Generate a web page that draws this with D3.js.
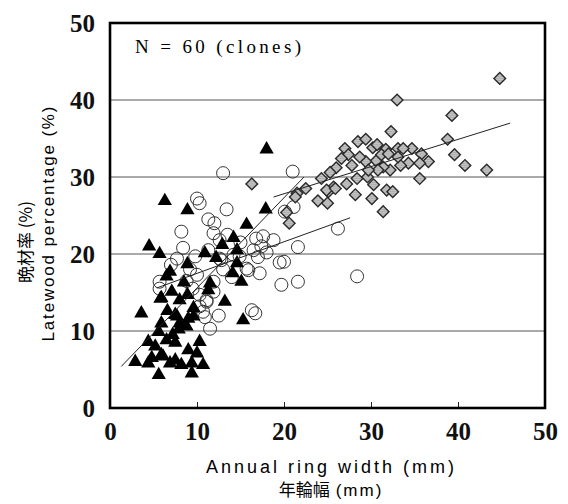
<!DOCTYPE html>
<html>
<head>
<meta charset="utf-8">
<script src="https://cdn.jsdelivr.net/npm/d3@7"></script>
<style>
  body { margin: 0; background: #fff; }
  svg { display: block; }
</style>
</head>
<body>
<div id="chart"></div>
<script>
// ring width (mm), latewood percentage (%)
const triangles = [
  [18.0,33.6],[6.3,26.9],[8.9,25.7],[17.9,25.8],[15.7,23.8],[4.5,21.0],[5.7,20.0],[14.2,22.1],
  [12.9,21.2],[10.9,20.1],[14.6,20.5],[14.6,18.8],[8.9,18.7],[6.9,17.7],[6.5,17.1],[11.5,16.2],
  [11.3,15.3],[14.1,17.5],[15.1,16.4],[7.1,15.1],[5.8,14.2],[8.9,14.7],[8.0,14.0],[13.2,13.8],
  [3.6,12.3],[5.9,11.0],[7.5,12.1],[8.0,11.0],[9.0,11.6],[9.6,11.9],[15.3,11.4],[8.8,10.6],
  [5.6,9.9],[4.4,8.6],[7.5,8.5],[10.3,8.6],[5.2,8.0],[9.0,7.5],[10.0,7.1],[2.9,6.0],
  [4.8,6.5],[5.9,6.9],[7.5,6.2],[8.2,5.6],[9.4,5.8],[10.7,5.6],[5.6,4.3],[9.4,4.5],
  [6.9,5.8],[4.4,5.8],[6.5,8.8],[7.9,10.2],[5.9,14.3],[7.7,11.9],[6.1,6.7],[12.2,19.5],
  [9.6,13.0],[7.2,9.5],[6.6,12.6],[8.5,16.3]
];
const circles = [
  [13.0,30.5],[21.0,30.7],[10.0,27.2],[10.3,26.6],[13.4,25.8],[11.3,24.5],[8.2,22.9],[20.1,25.5],
  [21.1,26.1],[26.2,23.3],[28.4,17.1],[17.6,22.3],[18.8,21.8],[17.4,21.0],[21.6,20.9],[19.5,18.9],
  [20.0,19.0],[17.2,17.5],[19.7,16.0],[21.6,16.4],[16.3,12.7],[16.7,12.3],[11.9,22.7],[12.6,21.8],
  [7.7,19.4],[9.8,19.7],[12.6,19.4],[14.9,19.7],[15.7,18.1],[5.7,16.4],[5.7,15.5],[10.3,14.7],
  [11.1,14.0],[10.3,13.2],[10.7,12.5],[11.5,10.3],[10.0,17.3],[11.9,16.4],[8.4,20.8],[11.3,20.5],
  [14.2,19.9],[15.9,17.9],[17.0,19.6],[12.8,19.2],[11.9,15.1],[11.1,13.8],[13.5,22.5],[15.0,21.5],
  [9.2,18.0],[14.0,17.0],[16.5,20.5],[18.0,20.2],[13.0,18.0],[9.5,15.5],[12.5,12.0],[8.8,16.5],
  [16.8,22.0],[10.9,11.8],[7.0,18.6],[12.0,24.0]
];
const diamonds = [
  [44.8,42.8],[33.0,40.0],[39.3,38.0],[16.3,29.1],[32.3,35.9],[38.8,34.9],[28.5,34.6],[29.4,34.9],
  [27.0,33.7],[27.4,32.9],[30.2,33.8],[31.7,33.6],[33.1,33.7],[34.7,33.7],[35.8,33.0],[36.6,32.0],
  [39.6,32.9],[40.8,31.5],[43.3,30.9],[35.6,29.8],[34.3,31.8],[33.4,31.5],[32.2,30.9],[31.4,31.3],
  [30.6,32.1],[29.4,32.0],[28.7,32.6],[26.6,32.4],[26.0,31.2],[25.3,30.6],[24.3,29.8],[25.7,28.7],
  [27.2,29.1],[28.4,29.8],[29.6,30.0],[30.8,30.9],[31.2,32.9],[30.3,29.0],[31.8,28.3],[32.5,28.1],
  [28.2,27.7],[30.1,27.2],[31.4,25.5],[25.1,28.1],[23.9,26.9],[25.0,26.6],[21.5,27.9],[21.3,27.4],
  [20.3,25.4],[20.6,24.0],[30.7,34.2],[33.1,32.6],[35.6,31.8],[33.7,33.7],[24.9,28.3],[25.9,28.5],
  [29.7,30.9],[32.0,33.0],[27.8,31.5],[22.5,28.5]
];
// regression lines, endpoints [x1, y1, x2, y2]
const fitLines = [
  [1.3, 5.4, 22.3, 30.0],
  [5.4, 15.6, 27.6, 24.7],
  [18.8, 27.4, 46.0, 37.0]
];
const xTicks = [0, 10, 20, 30, 40, 50];
const yTicks = [0, 10, 20, 30, 40, 50];

const margin = { top: 23, right: 23, bottom: 96, left: 110 };
const W = 568, H = 504;
const width = W - margin.left - margin.right;
const height = H - margin.top - margin.bottom;

const svg = d3.select("#chart").append("svg")
  .attr("width", W).attr("height", H);

// light hatch for the diamonds
const pat = svg.append("defs").append("pattern")
  .attr("id", "hatch").attr("width", 3).attr("height", 3)
  .attr("patternUnits", "userSpaceOnUse");
pat.append("rect").attr("width", 3).attr("height", 3).attr("fill", "#c4c4c4");
pat.append("path").attr("d", "M0,3L3,0").attr("stroke", "#9a9a9a").attr("stroke-width", 0.8);

const g = svg.append("g").attr("transform", `translate(${margin.left},${margin.top})`);

const x = d3.scaleLinear().domain([0, 50]).range([0, width]);
const y = d3.scaleLinear().domain([0, 50]).range([height, 0]);

// grid
g.append("g").selectAll("line")
  .data(yTicks.filter(d => d > 0 && d < 50))
  .join("line")
  .attr("x1", 0).attr("x2", width)
  .attr("y1", d => y(d)).attr("y2", d => y(d))
  .attr("stroke", "#555").attr("stroke-width", 1);

// x axis (ticks pointing inward)
const xAxis = g.append("g")
  .attr("transform", `translate(0,${height})`)
  .call(d3.axisBottom(x).tickValues(xTicks).tickSizeInner(-6).tickSizeOuter(0).tickPadding(14));
xAxis.select(".domain").remove();
xAxis.selectAll("line").attr("stroke", "#222");
xAxis.selectAll("text")
  .attr("font-family", "'Liberation Serif', serif")
  .attr("font-weight", "bold")
  .attr("font-size", 25)
  .attr("fill", "#111");

const yAxis = g.append("g")
  .call(d3.axisLeft(y).tickValues(yTicks).tickSize(0).tickPadding(15));
yAxis.select(".domain").remove();
yAxis.selectAll("text")
  .attr("font-family", "'Liberation Serif', serif")
  .attr("font-weight", "bold")
  .attr("font-size", 25)
  .attr("fill", "#111");

// circles (open)
g.append("g").selectAll("circle")
  .data(circles)
  .join("circle")
  .attr("cx", d => x(d[0])).attr("cy", d => y(d[1]))
  .attr("r", 6.5)
  .attr("fill", "none")
  .attr("stroke", "#333").attr("stroke-width", 1);

// diamonds
const diamond = d3.symbol().type(d3.symbolSquare).size(68);
g.append("g").selectAll("path")
  .data(diamonds)
  .join("path")
  .attr("d", diamond)
  .attr("transform", d => `translate(${x(d[0])},${y(d[1])}) rotate(45)`)
  .attr("fill", "url(#hatch)")
  .attr("stroke", "#2a2a2a").attr("stroke-width", 1.4);

// triangles
const tri = d3.symbol().type(d3.symbolTriangle).size(88);
g.append("g").selectAll("path")
  .data(triangles)
  .join("path")
  .attr("d", tri)
  .attr("transform", d => `translate(${x(d[0])},${y(d[1])})`)
  .attr("fill", "#000");

// fitted lines
g.append("g").selectAll("line")
  .data(fitLines)
  .join("line")
  .attr("x1", d => x(d[0])).attr("y1", d => y(d[1]))
  .attr("x2", d => x(d[2])).attr("y2", d => y(d[3]))
  .attr("stroke", "#222").attr("stroke-width", 1);

// frame
g.append("rect")
  .attr("x", 0).attr("y", 0)
  .attr("width", width).attr("height", height)
  .attr("fill", "none")
  .attr("stroke", "#000").attr("stroke-width", 2.6);

g.append("text")
  .attr("x", 25).attr("y", 30)
  .attr("font-family", "'Liberation Serif', serif")
  .attr("font-size", 19)
  .attr("textLength", 166).attr("lengthAdjust", "spacing")
  .text("N = 60 (clones)");

// axis titles
svg.append("text")
  .attr("x", 330).attr("y", 473)
  .attr("text-anchor", "middle")
  .attr("font-family", "'Liberation Sans', Arial, sans-serif")
  .attr("font-size", 18)
  .attr("textLength", 248).attr("lengthAdjust", "spacing")
  .text("Annual ring width (mm)");
const jx = svg.append("text")
  .attr("x", 331).attr("y", 496)
  .attr("text-anchor", "middle")
  .attr("font-family", "'Noto Sans CJK JP', 'Liberation Sans', sans-serif")
  .attr("font-size", 17);
jx.append("tspan").text("年輪幅");
jx.append("tspan").attr("dx", 6).attr("letter-spacing", 2)
  .attr("font-family", "'Liberation Sans', Arial, sans-serif").text("(mm)");

svg.append("text")
  .attr("transform", "translate(54,224) rotate(-90)")
  .attr("text-anchor", "middle")
  .attr("font-family", "'Liberation Sans', Arial, sans-serif")
  .attr("font-size", 17)
  .attr("textLength", 235).attr("lengthAdjust", "spacing")
  .text("Latewood percentage (%)");
svg.append("text")
  .attr("transform", "translate(32,242) rotate(-90)")
  .attr("text-anchor", "middle")
  .attr("font-family", "'Noto Sans CJK JP', 'Liberation Sans', sans-serif")
  .attr("font-size", 17)
  .text("晩材率 (%)");
</script>
</body>
</html>
